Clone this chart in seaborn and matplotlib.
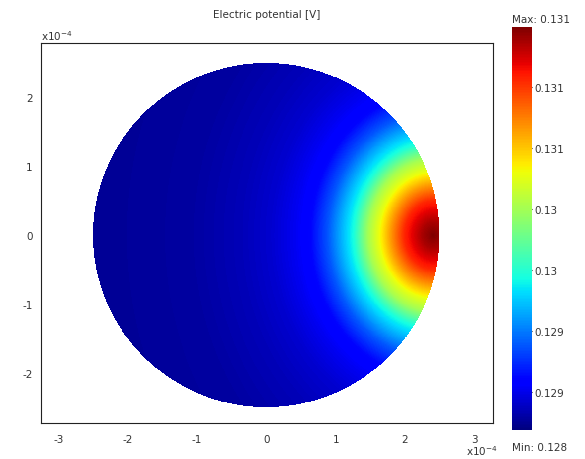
import numpy as np
import seaborn as sns
import matplotlib
matplotlib.use("Agg")
import matplotlib.pyplot as plt
from matplotlib.colors import Normalize
from matplotlib.ticker import FormatStrFormatter

sns.set_style("white")
plt.rcParams["font.family"] = ["DejaVu Sans"]
plt.rcParams["axes.unicode_minus"] = False

# values
radius = 2.5e-4
hot_x, hot_y = 2.41e-4, 0.0
stretch_y = 0.85
# distance from hot spot (x1e-4 m) -> normalised potential
prof_dist = [0.0, 0.17, 0.42, 0.61, 0.79, 0.94, 1.15, 1.28, 1.52, 1.76, 2.0, 2.34, 2.77, 3.5, 4.9]
prof_val = [1.0, 0.96, 0.87, 0.75, 0.63, 0.55, 0.38, 0.32, 0.21, 0.13, 0.10, 0.07, 0.05, 0.03, 0.02]
v_min, v_max = 0.12875, 0.13139
cbar_ticks = [0.1290, 0.1294, 0.1298, 0.1302, 0.1306, 0.1310]
ticks = [-3, -2, -1, 0, 1, 2, 3]
yticks = [-2, -1, 0, 1, 2]

txt = "#333333"
fs = 7.5

# %%
n = 700
xs = np.linspace(-radius, radius, n)
X, Y = np.meshgrid(xs, xs)
d = np.hypot(X - hot_x, (Y - hot_y) * stretch_y) / 1e-4
V = v_min + np.interp(d, prof_dist, prof_val) * (v_max - v_min)
V = np.ma.masked_where(np.hypot(X, Y) > radius, V)

fig = plt.figure(figsize=(5.85, 4.6), dpi=100)
ax = fig.add_axes([41 / 585, 1 - 424 / 460, 452 / 585, 380 / 460])
cax = fig.add_axes([512 / 585, 1 - 431 / 460, 20 / 585, 403 / 460])

cmap = matplotlib.colormaps["jet"]
mesh = ax.pcolormesh(X / 1e-4, Y / 1e-4, V, cmap=cmap,
                     norm=Normalize(v_min, v_max), shading="auto", rasterized=True)

ax.set_xlim(-3.25, 3.27)
ax.set_ylim(-2.73, 2.79)
ax.set_xticks(ticks)
ax.set_yticks(yticks)
ax.tick_params(length=0, labelsize=fs, colors=txt, pad=8)
ax.tick_params(axis="y", pad=6)
for s in ax.spines.values():
    s.set_color("#222222")
    s.set_linewidth(0.8)
ax.set_title("Electric potential [V]", fontsize=fs, color=txt, pad=19)
ax.text(0.0, 1.003, "x10$^{-4}$", transform=ax.transAxes, fontsize=fs, color=txt,
        ha="left", va="bottom")
ax.text(0.94, -0.052, "x10$^{-4}$", transform=ax.transAxes, fontsize=fs, color=txt,
        ha="left", va="top")

cb = fig.colorbar(mesh, cax=cax, ticks=cbar_ticks)
cb.outline.set_visible(False)
cb.ax.yaxis.set_major_formatter(FormatStrFormatter("%.3g"))
cb.ax.tick_params(direction="in", length=3, width=0.8, labelsize=fs, colors=txt, pad=2)
cb.ax.tick_params(color="black")
cax.text(0.0, 1.008, "Max: 0.131", transform=cax.transAxes, fontsize=fs, color=txt,
         ha="left", va="bottom")
cax.text(0.0, -0.03, "Min: 0.128", transform=cax.transAxes, fontsize=fs, color=txt,
         ha="left", va="top")

plt.savefig("out.png", dpi=100)
